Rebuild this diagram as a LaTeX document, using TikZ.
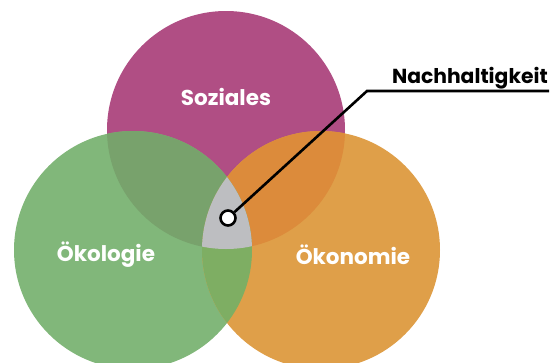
\documentclass[tikz,border=0pt]{standalone}
\usepackage{fontspec}
\setmainfont{Poppins}
\definecolor{sozcol}{HTML}{B04E84}
\definecolor{oekcol}{HTML}{81B77A}
\definecolor{ecocol}{HTML}{DF9F49}
\definecolor{sozoek}{HTML}{78A26C}
\definecolor{sozeco}{HTML}{DC8B3B}
\definecolor{oekeco}{HTML}{7EAE63}
\definecolor{midcol}{HTML}{BDBEC1}

\begin{document}
\begin{tikzpicture}[x=1pt,y=-1pt]
   \useasboundingbox (0,0) rectangle (555,362);
   \begin{scope}
    \clip (0,0) rectangle (555,362);
    % the three circles
    \fill[sozcol] (226,130) circle (119pt);
    \fill[oekcol] (133,250) circle (119pt);
    \fill[ecocol] (321,250) circle (119pt);
    % overlaps
    \begin{scope}
     \clip (226,130) circle (119pt);
     \fill[sozoek] (133,250) circle (119pt);
     \fill[sozeco] (321,250) circle (119pt);
    \end{scope}
    \begin{scope}
     \clip (133,250) circle (119pt);
     \fill[oekeco] (321,250) circle (119pt);
     \clip (321,250) circle (119pt);
     \fill[midcol] (226,130) circle (119pt);
    \end{scope}
   \end{scope}
   \begin{scope}[every node/.style={text=white,font=\bfseries\fontsize{21.5}{25}\selectfont}]
    \node (soz) at (226,97) {Soziales};
    \node (oek) at (106,255) {Ökologie};
    \node (eco) at (353,255) {Ökonomie};
   \end{scope}
   \node[circle,draw=black,fill=white,line width=2.6pt,minimum size=15pt,inner sep=0pt] (dot) at (228,218) {};
   \coordinate (knick) at (367,91);
   \coordinate (ende) at (549,91);
   \draw[line width=2.6pt] (dot) -- (knick) -- (ende);
   \node[font=\bfseries\fontsize{20.3}{24}\selectfont,anchor=base east,inner sep=0pt] (nach) at (548,83) {Nachhaltigkeit};
\end{tikzpicture}
\end{document}
